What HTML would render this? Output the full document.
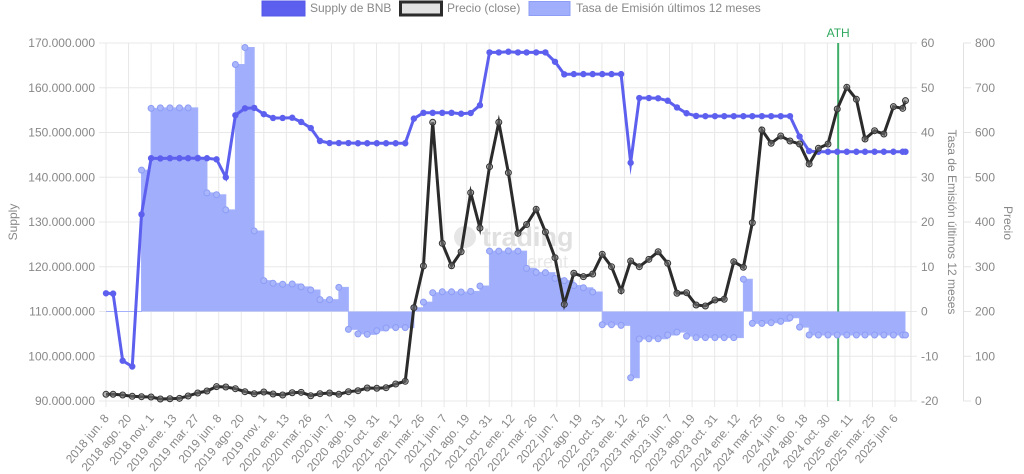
<!DOCTYPE html>
<html lang="es">
<head>
<meta charset="utf-8">
<title>Supply de BNB</title>
<style>
html,body{margin:0;padding:0;background:#fff;width:1024px;height:474px;overflow:hidden}
svg{display:block;font-family:"Liberation Sans",Arial,sans-serif}
</style>
</head>
<body>
<svg id="chart" xmlns="http://www.w3.org/2000/svg" width="1024" height="474" viewBox="0 0 1024 474">
  <g font-size="12" fill="#888">
    <rect x="262" y="1" width="43" height="15" fill="#5d60ee" stroke="#5558e8" stroke-width="1"/>
    <text x="310" y="12">Supply de BNB</text>
    <rect x="400.5" y="2" width="41" height="13" fill="#e2e2e2" stroke="#2b2b2b" stroke-width="3"/>
    <text x="447" y="12">Precio (close)</text>
    <rect x="529" y="1.5" width="41" height="14" fill="#a0aefc" stroke="#8d9cf5" stroke-width="1"/>
    <text x="576" y="12">Tasa de Emisión últimos 12 meses</text>
  </g>
  <g id="grid"></g>
  <g>
    <circle cx="465" cy="237" r="11" fill="#e6e6e6"/>
    <text x="482" y="246" font-size="27" font-weight="bold" fill="#e0e0e0">trading</text>
    <text x="527" y="268" font-size="18" fill="#e8e8e8">erent</text>
  </g>
  <g id="annotation"></g>
  <g id="rate"></g>
  <g id="supply"></g>
  <g id="price"></g>
  <g id="axes" font-size="12" fill="#888"></g>
  <text transform="translate(17,222) rotate(-90)" text-anchor="middle" font-size="12" fill="#888">Supply</text>
  <text transform="translate(948,222) rotate(90)" text-anchor="middle" font-size="12" fill="#888">Tasa de Emisión últimos 12 meses</text>
  <text transform="translate(1004,223) rotate(90)" text-anchor="middle" font-size="12" fill="#888">Precio</text>
</svg>
<script>
const dates = [
'2018-06-08','2018-07-01','2018-08-01','2018-09-01','2018-10-01','2018-11-01','2018-12-01',
'2019-01-01','2019-02-01','2019-03-01','2019-04-01','2019-05-01','2019-06-01','2019-07-01','2019-08-01','2019-09-01','2019-10-01','2019-11-01','2019-12-01',
'2020-01-01','2020-02-01','2020-03-01','2020-04-01','2020-05-01','2020-06-01','2020-07-01','2020-08-01','2020-09-01','2020-10-01','2020-11-01','2020-12-01',
'2021-01-01','2021-02-01','2021-03-01','2021-04-01','2021-05-01','2021-06-01','2021-07-01','2021-08-01','2021-09-01','2021-10-01','2021-11-01','2021-12-01',
'2022-01-01','2022-02-01','2022-03-01','2022-04-01','2022-05-01','2022-06-01','2022-07-01','2022-08-01','2022-09-01','2022-10-01','2022-11-01','2022-12-01',
'2023-01-01','2023-02-01','2023-03-01','2023-04-01','2023-05-01','2023-06-01','2023-07-01','2023-08-01','2023-09-01','2023-10-01','2023-11-01','2023-12-01',
'2024-01-01','2024-02-01','2024-03-01','2024-04-01','2024-05-01','2024-06-01','2024-07-01','2024-08-01','2024-09-01','2024-10-01','2024-11-01','2024-12-01',
'2025-01-01','2025-02-01','2025-03-01','2025-04-01','2025-05-01','2025-06-01','2025-07-01','2025-07-10'];

// Supply in millions of BNB
const supplyValues = [
114.07,114,99,97.7,131.7,144.25,144.2,
144.25,144.25,144.25,144.25,144.25,144,140,153.85,155.4,155.5,154.1,153.25,
153.25,153.3,152.35,151,148.1,147.65,147.65,147.65,147.6,147.6,147.6,147.6,
147.6,147.6,153.1,154.4,154.4,154.4,154.4,154.2,154.35,156.1,167.9,167.9,
168.05,167.9,167.9,167.9,167.9,165.8,163,163.05,163.05,163.05,163.05,163.05,
163.05,143.25,157.7,157.7,157.65,157.1,155.6,154.3,153.7,153.65,153.65,153.65,
153.65,153.65,153.65,153.65,153.65,153.65,153.65,149.1,145.85,145.7,145.7,145.7,
145.7,145.7,145.7,145.7,145.7,145.7,145.7,145.7];

const priceValues = [
15,15,13.4,10.5,9.6,8.9,4.5,
5.1,6,11.2,17.9,22.3,32,31.3,27.5,20.8,16.3,20.1,15.6,
13.4,18.5,19.4,11.8,16.3,17.9,15,20.8,23,29,28.4,29.7,
38,44,208.5,301.7,622.8,352.4,302.3,333.6,465.5,386.6,523.6,622.8,
510.2,374.7,394.4,428.4,377.7,320.2,216.1,285.4,277.8,283.8,327.8,300.1,
246.5,312.8,300.1,316.6,333.6,307.7,240.7,242,214.5,212.3,225.7,227.3,
311.3,298.8,398.4,605.6,575.9,592.2,581,574.3,529.6,564.7,574.3,652.5,
701,674.2,585.5,604,596.6,657.7,654,671.1];

// Issuance rate, last 12 months (%)
const rateValues = [
0,0,0,0,31.6,45.4,45.5,
45.5,45.5,45.5,34.3,26.5,26.1,22.7,55.2,59,18,6.9,6.3,
6.1,6.15,5.5,4.8,2.65,2.65,5.4,-4,-5,-5.1,-4.3,-3.7,
-3.6,-3.6,0.85,2.1,4.2,4.4,4.4,4.35,4.5,5.7,13.5,13.5,
13.55,13.5,9.65,8.75,8.7,7.4,6.9,5.8,5.3,4.35,-2.95,-2.95,
-3.1,-14.8,-6.15,-6.1,-6.1,-5.25,-4.6,-5.5,-5.85,-5.85,-5.85,-5.85,
-5.85,7.2,-2.65,-2.65,-2.5,-2.2,-1.4,-3.5,-5.25,-5.25,-5.25,-5.25,
-5.25,-5.25,-5.25,-5.25,-5.25,-5.25,-5.25,-5.25];

const xTickLabels = ['2018 jun. 8','2018 ago. 20','2018 nov. 1','2019 ene. 13','2019 mar. 27','2019 jun. 8','2019 ago. 20','2019 nov. 1','2020 ene. 13','2020 mar. 26','2020 jun. 7','2020 ago. 19','2020 oct. 31','2021 ene. 12','2021 mar. 26','2021 jun. 7','2021 ago. 19','2021 oct. 31','2022 ene. 12','2022 mar. 26','2022 jun. 7','2022 ago. 19','2022 oct. 31','2023 ene. 12','2023 mar. 26','2023 jun. 7','2023 ago. 19','2023 oct. 31','2024 ene. 12','2024 mar. 25','2024 jun. 6','2024 ago. 18','2024 oct. 30','2025 ene. 11','2025 mar. 25','2025 jun. 6'];
const supplyTicks = [90,100,110,120,130,140,150,160,170];
const supplyTickLabels = ['90.000.000','100.000.000','110.000.000','120.000.000','130.000.000','140.000.000','150.000.000','160.000.000','170.000.000'];
const rateTicks = [-20,-10,0,10,20,30,40,50,60];
const priceTicks = [0,100,200,300,400,500,600,700,800];
const athDate = '2024-12-04';

const NS = 'http://www.w3.org/2000/svg';
const PLOT = {left:106, right:911, top:43, bottom:401};
const startMs = Date.UTC(2018,5,8);
const pxPerDay = 0.3088;

function xScale(d){
  return PLOT.left + (Date.parse(d + 'T00:00:00Z') - startMs) / 86400000 * pxPerDay;
}
function xTick(i){
  return PLOT.left + i * 73 * pxPerDay;
}
function linear(min,max){
  return function(v){ return PLOT.bottom - (v - min) / (max - min) * (PLOT.bottom - PLOT.top); };
}
const ySupply = linear(90,170);
const yRate = linear(-20,60);
const yPrice = linear(0,800);

function make(tag, attrs, parent, text){
  const el = document.createElementNS(NS, tag);
  for (const k in attrs) el.setAttribute(k, attrs[k]);
  if (text !== undefined) el.textContent = text;
  parent.appendChild(el);
  return el;
}
const gridG = document.getElementById('grid');
const axesG = document.getElementById('axes');
const annG = document.getElementById('annotation');
const rateG = document.getElementById('rate');
const supplyG = document.getElementById('supply');
const priceG = document.getElementById('price');

// Grid and horizontal ticks
supplyTicks.forEach(function(t,i){
  const y = ySupply(t);
  const line = make('line',{x1:99,x2:917,y1:y,y2:y,stroke:'#e8e8e8','stroke-width':1},gridG);
  
  
  const lab = make('text',{x:95,y:y+4,'text-anchor':'end'},axesG,supplyTickLabels[i]);
  
  
});
rateTicks.forEach(function(t){
  const lab = make('text',{x:921,y:yRate(t)+4},axesG,String(t));
  
  
});
priceTicks.forEach(function(t){
  const y = yPrice(t);
  const tick = make('line',{x1:963.5,x2:971,y1:y,y2:y,stroke:'#e4e4e4','stroke-width':1},gridG);
  
  
  const lab = make('text',{x:975,y:y+4},axesG,String(t));
  
  
});
[[PLOT.left,'axis-line-supply'],[PLOT.right,'axis-line-rate'],[963.5,'axis-line-price']].forEach(function(a){
  const line = make('line',{x1:a[0],x2:a[0],y1:PLOT.top,y2:PLOT.bottom,stroke:'#e2e2e2','stroke-width':1},gridG);
  
  
});
xTickLabels.forEach(function(label,i){
  const x = xTick(i);
  const line = make('line',{x1:x,x2:x,y1:PLOT.top,y2:407,stroke:'#e8e8e8','stroke-width':1},gridG);
  
  
  const lab = make('text',{'text-anchor':'end',transform:'translate('+(x+3.5)+',418.5) rotate(-50)'},axesG,label);
  
  
});

// ATH annotation
const athX = xScale(athDate);
const athLine = make('line',{x1:athX,x2:athX,y1:PLOT.top,y2:PLOT.bottom,stroke:'#3fae68','stroke-width':2},annG);


const athLabel = make('text',{x:athX,y:37,'text-anchor':'middle','font-size':12,fill:'#2fa85e'},annG,'ATH');



// Issuance rate: stepped area
let stepLine = '';
rateValues.forEach(function(v,i){
  const x = xScale(dates[i]), y = yRate(v);
  if (i === 0) { stepLine = 'M' + x + ' ' + y; }
  else { stepLine += ' H' + x + ' V' + y; }
});
const base = yRate(0);
const areaPath = stepLine + ' V' + base + ' H' + xScale(dates[0]) + ' Z';
const rateArea = make('path',{d:areaPath,fill:'#a0aefc',stroke:'none'},rateG);


const rateLine = make('path',{d:stepLine,fill:'none',stroke:'#a5b2fb','stroke-width':1},rateG);


rateValues.forEach(function(v,i){
  if (v === 0) return;
  const c = make('circle',{cx:xScale(dates[i]),cy:yRate(v),r:3,fill:'#a9b6fb',stroke:'#8d9cf5','stroke-width':1},rateG);
  
  
});

// Supply line
const supplyPts = supplyValues.map(function(v,i){ return xScale(dates[i]) + ',' + ySupply(v); }).join(' ');
const supplyLine = make('polyline',{points:supplyPts,fill:'none',stroke:'#5d60ee','stroke-width':3,'stroke-miterlimit':10},supplyG);


supplyValues.forEach(function(v,i){
  const c = make('circle',{cx:xScale(dates[i]),cy:ySupply(v),r:3.2,fill:'#5d60ee'},supplyG);
  
  
});

// Price line
const pricePts = priceValues.map(function(v,i){ return xScale(dates[i]) + ',' + yPrice(v); }).join(' ');
const priceLine = make('polyline',{points:pricePts,fill:'none',stroke:'#2b2b2b','stroke-width':3,'stroke-miterlimit':10},priceG);


priceValues.forEach(function(v,i){
  const c = make('circle',{cx:xScale(dates[i]),cy:yPrice(v),r:3,fill:'rgba(120,120,120,0.55)',stroke:'#333','stroke-width':1},priceG);
  
  
});
</script>
</body>
</html>
